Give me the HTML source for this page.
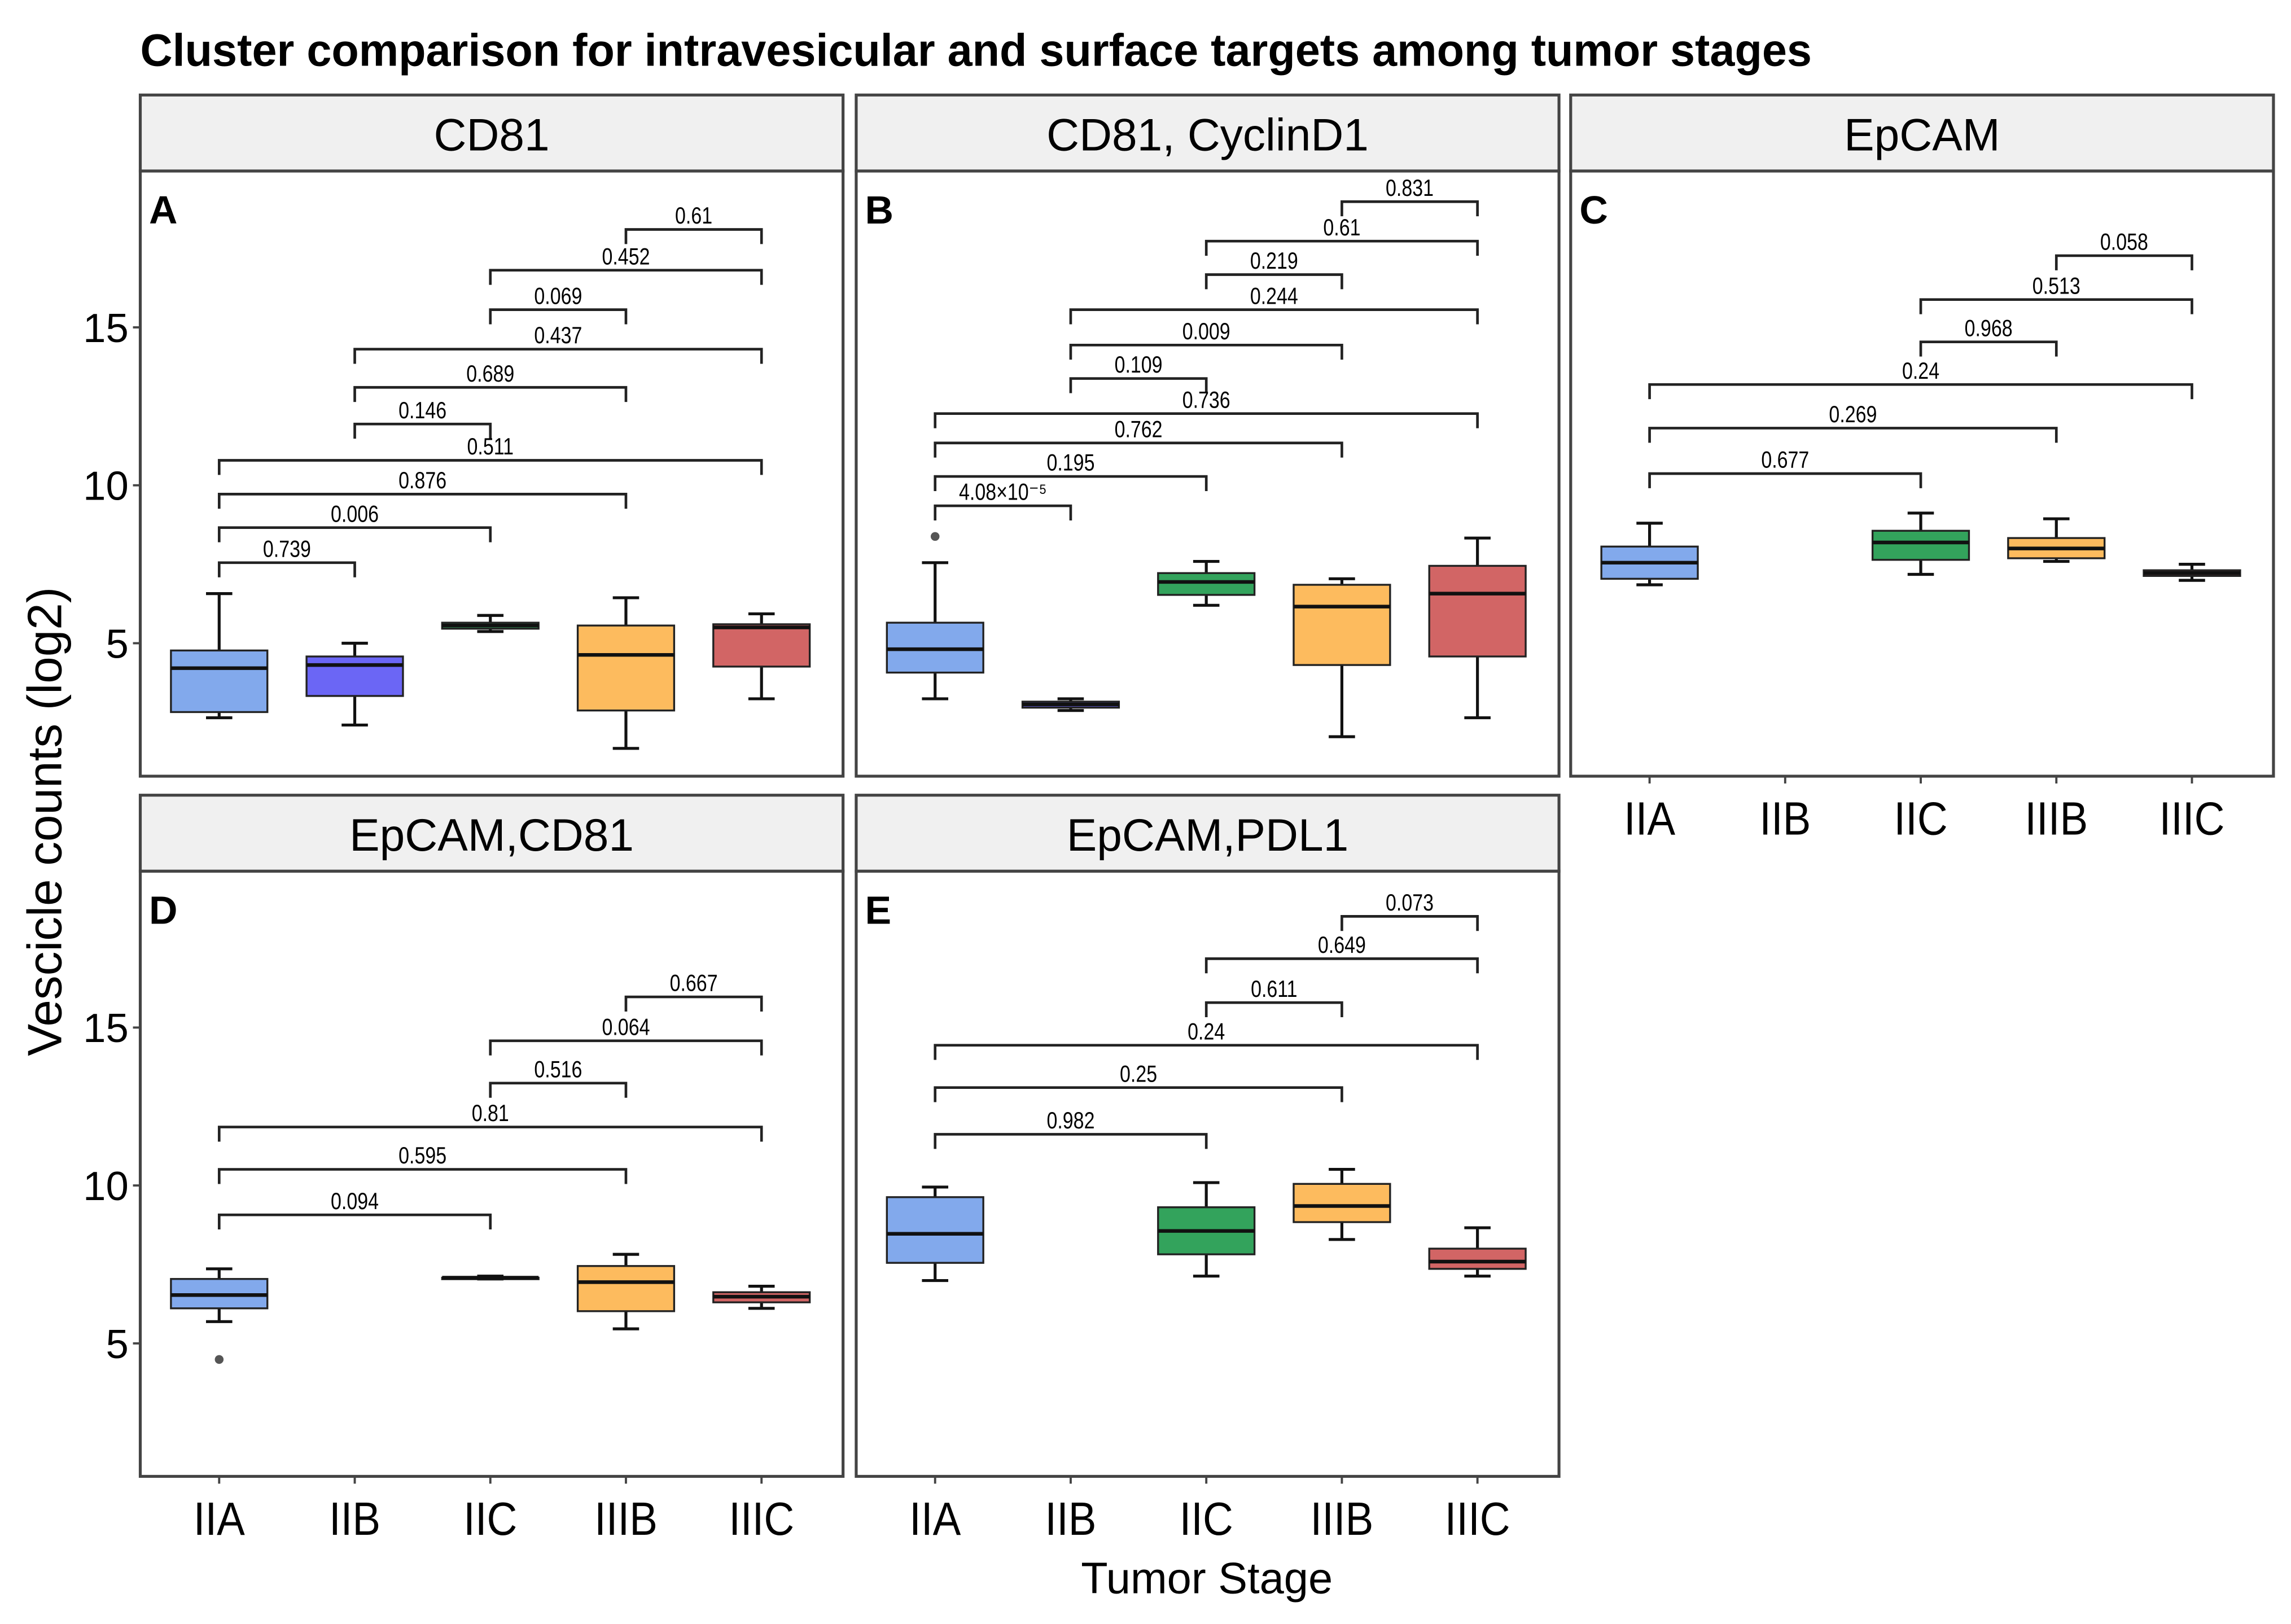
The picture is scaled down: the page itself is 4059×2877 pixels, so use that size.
<!DOCTYPE html>
<html><head><meta charset="utf-8"><style>
html,body{margin:0;padding:0;background:#fff;}
svg{display:block;}
text{font-family:"Liberation Sans",sans-serif;}
</style></head><body>
<svg id="chart" width="4059" height="2877" viewBox="0 0 1568 1111" preserveAspectRatio="none" xmlns="http://www.w3.org/2000/svg">
<text x="96" y="45" font-size="31" font-weight="bold" textLength="1144" lengthAdjust="spacingAndGlyphs">Cluster comparison for intravesicular and surface targets among tumor stages</text>
<text transform="translate(42,562) rotate(-90)" text-anchor="middle" font-size="33">Vescicle counts (log2)</text>
<text x="826" y="1090" text-anchor="middle" font-size="30">Tumor Stage</text>
<g id="panels"></g>
</svg>
<script>
const categories = ["IIA","IIB","IIC","IIIB","IIIC"];
const colors = ["#82a9ec","#6b66f5","#33a35c","#fdbb5e","#d26565"];
const yTicks = [5,10,15];
const panelTitles = ["CD81","CD81, CyclinD1","EpCAM","EpCAM,CD81","EpCAM,PDL1"];
const panelLetters = ["A","B","C","D","E"];
// [whiskerHigh, q3, median, q1, whiskerLow] per category (null = absent)
const statsA = [[6.57,4.77,4.21,2.82,2.64],[5.0,4.58,4.31,3.33,2.41],[5.88,5.65,5.56,5.46,5.37],[6.44,5.56,4.63,2.87,1.67],[5.93,5.6,5.5,4.26,3.24]];
const statsB = [[7.55,5.65,4.81,4.07,3.24],[3.24,3.15,3.06,2.96,2.87],[7.59,7.22,6.94,6.53,6.2],[7.04,6.85,6.16,4.31,2.04],[8.33,7.45,6.57,4.58,2.64]];
const statsC = [[8.8,8.06,7.55,7.04,6.85],null,[9.12,8.56,8.19,7.64,7.18],[8.94,8.33,8.0,7.69,7.59],[7.5,7.31,7.22,7.13,6.99]];
const statsD = [[7.36,7.04,6.53,6.11,5.69],null,[7.13,7.08,7.08,7.08,7.04],[7.82,7.45,6.94,6.02,5.46],[6.81,6.62,6.48,6.3,6.11]];
const statsE = [[9.95,9.63,8.47,7.55,6.99],null,[10.09,9.31,8.56,7.82,7.13],[10.51,10.05,9.35,8.84,8.29],[8.66,8.0,7.59,7.36,7.13]];
const outliersA = [], outliersB = [[0,8.38]], outliersC = [], outliersD = [[0,4.49]], outliersE = [];
// brackets: [fromIdx, toIdx, level, label]
const bracketsA = [[3,4,18.10,"0.61"],[2,4,16.81,"0.452"],[2,3,15.56,"0.069"],[1,4,14.31,"0.437"],[1,3,13.10,"0.689"],[1,2,11.94,"0.146"],[0,4,10.79,"0.511"],[0,3,9.72,"0.876"],[0,2,8.66,"0.006"],[0,1,7.55,"0.739"]];
const bracketsB = [[3,4,18.98,"0.831"],[2,4,17.73,"0.61"],[2,3,16.67,"0.219"],[1,4,15.56,"0.244"],[1,3,14.44,"0.009"],[1,2,13.38,"0.109"],[0,4,12.27,"0.736"],[0,3,11.34,"0.762"],[0,2,10.28,"0.195"],[0,1,9.35,"4.08×10⁻⁵"]];
const bracketsC = [[3,4,17.27,"0.058"],[2,4,15.88,"0.513"],[2,3,14.54,"0.968"],[0,4,13.19,"0.24"],[0,3,11.81,"0.269"],[0,2,10.37,"0.677"]];
const bracketsD = [[3,4,15.97,"0.667"],[2,4,14.58,"0.064"],[2,3,13.24,"0.516"],[0,4,11.85,"0.81"],[0,3,10.51,"0.595"],[0,2,9.07,"0.094"]];
const bracketsE = [[3,4,18.52,"0.073"],[2,4,17.18,"0.649"],[2,3,15.79,"0.611"],[0,4,14.44,"0.24"],[0,3,13.10,"0.25"],[0,2,11.62,"0.982"]];

const allStats=[statsA,statsB,statsC,statsD,statsE];
const allOut=[outliersA,outliersB,outliersC,outliersD,outliersE];
const allBr=[bracketsA,bracketsB,bracketsC,bracketsD,bracketsE];
const NS="http://www.w3.org/2000/svg";
const root=document.getElementById("panels");
function mk(tag,attrs,parent){const e=document.createElementNS(NS,tag);for(const k in attrs)e.setAttribute(k,attrs[k]);(parent||root).appendChild(e);return e;}
const layout=[[96,65],[586,65],[1075,65],[96,544],[586,544]];
const W=481, STRIP=52, PH=414;
const YMIN=0.79, YMAX=19.95;
layout.forEach((p,pi)=>{
  const [px,py]=p; const top=py+STRIP, bot=top+PH;
  const g=mk("g",{});
  
  
  const xs=i=>px+54+i*92.8;
  const ys=v=>bot-(v-YMIN)/(YMAX-YMIN)*PH;
  const st=mk("rect",{x:px,y:py,width:W,height:STRIP,fill:"#f0f0f0",stroke:"#444","stroke-width":2},g);
  
  
  const stt=mk("text",{x:px+W/2,y:py+38,"text-anchor":"middle","font-size":31},g);
  stt.textContent=panelTitles[pi];
  
  
  const fr=mk("rect",{x:px,y:top,width:W,height:PH,fill:"none",stroke:"#444","stroke-width":2},g);
  
  
  const lt=mk("text",{x:px+6,y:top+36,"font-size":27,"font-weight":"bold"},g);
  lt.textContent=panelLetters[pi];
  
  
  if(pi===0||pi===3){
    yTicks.forEach(t=>{
      const tt=mk("text",{x:px-8,y:ys(t)+10,"text-anchor":"end","font-size":28},g);
      tt.textContent=t;
      
      
      mk("line",{x1:px-5,x2:px,y1:ys(t),y2:ys(t),stroke:"#444","stroke-width":1.5},g);
    });
  }
  if(pi>=2){
    categories.forEach((c,i)=>{
      const xt=mk("text",{x:0,y:0,"text-anchor":"middle","font-size":32,transform:`translate(${xs(i)},${bot+40}) scale(0.9,1)`},g);
      xt.textContent=c;
      
      
      mk("line",{x1:xs(i),x2:xs(i),y1:bot,y2:bot+5,stroke:"#444","stroke-width":1.5},g);
    });
  }
  allStats[pi].forEach((s,i)=>{
    if(!s)return;
    const bx=mk("g",{},g);
    
    
    const x=xs(i), hw=33, cw=9;
    mk("line",{x1:x,x2:x,y1:ys(s[0]),y2:ys(s[4]),stroke:"#111","stroke-width":2},bx);
    mk("line",{x1:x-cw,x2:x+cw,y1:ys(s[0]),y2:ys(s[0]),stroke:"#111","stroke-width":2},bx);
    mk("line",{x1:x-cw,x2:x+cw,y1:ys(s[4]),y2:ys(s[4]),stroke:"#111","stroke-width":2},bx);
    mk("rect",{x:x-hw,y:ys(s[1]),width:hw*2,height:Math.max(ys(s[3])-ys(s[1]),1),fill:colors[i],stroke:"#222","stroke-width":1.3},bx);
    mk("line",{x1:x-hw,x2:x+hw,y1:ys(s[2]),y2:ys(s[2]),stroke:"#111","stroke-width":2.5},bx);
  });
  allOut[pi].forEach(o=>{
    const c=mk("circle",{cx:xs(o[0]),cy:ys(o[1]),r:3,fill:"#555"},g);
    
    
  });
  allBr[pi].forEach(b=>{
    const bg=mk("g",{},g);
    
    
    const x1=xs(b[0]),x2=xs(b[1]),y=ys(b[2]);
    mk("path",{d:`M${x1},${y+10}V${y}H${x2}V${y+10}`,fill:"none",stroke:"#222","stroke-width":1.8},bg);
    const t=mk("text",{x:0,y:0,"text-anchor":"middle","font-size":16,transform:`translate(${(x1+x2)/2},${y-4}) scale(0.82,1)`},bg);
    t.textContent=b[3];
  });
});
</script>
</body></html>
